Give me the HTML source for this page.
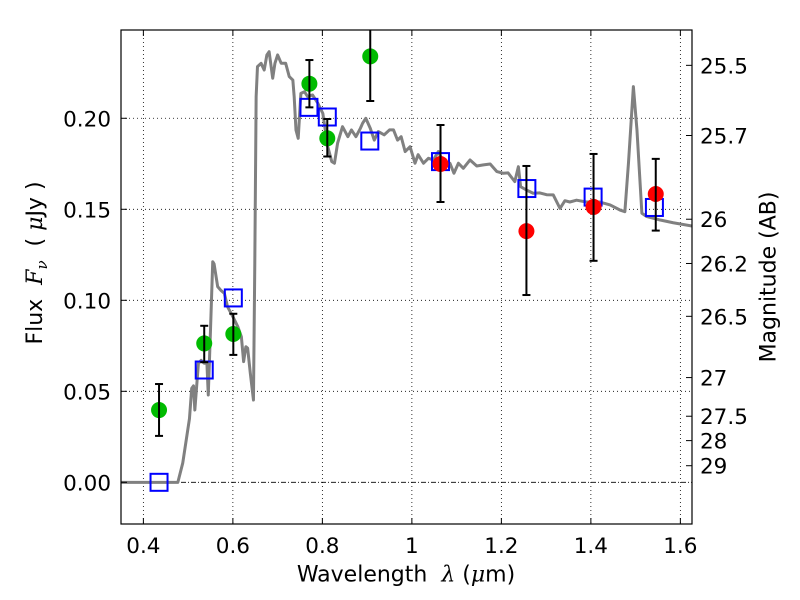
<!DOCTYPE html>
<html><head><meta charset="utf-8"><style>
body{margin:0;background:#fff;}
svg{display:block;font-family:"DejaVu Sans","Liberation Sans",sans-serif;}
</style></head><body>
<svg id="chart" width="800" height="600" viewBox="0 0 800 600"></svg>
<script>
const specX=[0.35,0.477,0.488,0.503,0.508,0.512,0.515,0.523,0.529,0.536,0.542,0.545,0.550,0.555,0.558,0.566,0.573,0.581,0.588,0.600,0.611,0.619,0.624,0.629,0.633,0.639,0.646,0.649,0.652,0.655,0.663,0.670,0.676,0.681,0.689,0.694,0.700,0.708,0.714,0.718,0.726,0.734,0.737,0.741,0.746,0.752,0.760,0.767,0.778,0.790,0.801,0.812,0.821,0.827,0.834,0.845,0.857,0.865,0.875,0.885,0.890,0.897,0.907,0.916,0.925,0.938,0.950,0.959,0.968,0.976,0.985,0.996,1.007,1.014,1.026,1.037,1.048,1.059,1.070,1.085,1.094,1.104,1.115,1.130,1.145,1.160,1.175,1.190,1.204,1.215,1.230,1.238,1.243,1.256,1.271,1.286,1.301,1.316,1.331,1.342,1.353,1.368,1.390,1.420,1.443,1.465,1.476,1.484,1.495,1.503,1.514,1.525,1.555,1.584,1.626];
const specY=[0,0,0.0106,0.035,0.0516,0.053,0.0397,0.0654,0.067,0.0654,0.0654,0.048,0.0837,0.1212,0.120,0.1075,0.1055,0.1038,0.0965,0.091,0.0855,0.080,0.0663,0.0745,0.0737,0.0599,0.0452,0.1205,0.2119,0.2284,0.2302,0.2265,0.2348,0.2366,0.222,0.2302,0.2348,0.2302,0.2302,0.2302,0.2229,0.221,0.2119,0.1936,0.189,0.2137,0.2146,0.2119,0.2128,0.2082,0.2027,0.1844,0.1762,0.1753,0.1863,0.1954,0.1899,0.1936,0.1899,0.1945,0.1973,0.200,0.1945,0.188,0.1927,0.1909,0.1936,0.1936,0.188,0.1899,0.1817,0.1844,0.1753,0.180,0.1753,0.178,0.1771,0.1817,0.1762,0.1753,0.1698,0.1753,0.1725,0.1771,0.1738,0.1744,0.1749,0.1707,0.1698,0.170,0.1652,0.1734,0.1624,0.1606,0.1588,0.159,0.158,0.1579,0.1505,0.1547,0.154,0.155,0.154,0.154,0.1524,0.1496,0.1487,0.1753,0.2174,0.1936,0.1478,0.146,0.1441,0.1426,0.1408];
const greenX=[0.435,0.536,0.601,0.771,0.811,0.907];
const greenY=[0.0397,0.0763,0.0815,0.219,0.189,0.234];
const greenLo=[0.0255,0.066,0.070,0.206,0.179,0.2095];
const greenHi=[0.054,0.086,0.0926,0.232,0.1996,0.258];
const redX=[1.064,1.256,1.406,1.545];
const redY=[0.1749,0.138,0.1513,0.1584];
const redLo=[0.154,0.1029,0.1217,0.1383];
const redHi=[0.1963,0.1738,0.1804,0.1777];
const blueX=[0.435,0.536,0.601,0.770,0.811,0.906,1.064,1.257,1.405,1.542];
const blueY=[0.0,0.0617,0.1013,0.206,0.2007,0.1875,0.1762,0.1614,0.1567,0.151];
const xTicks=[0.4,0.6,0.8,1.0,1.2,1.4,1.6];
const xTickLabels=["0.4","0.6","0.8","1","1.2","1.4","1.6"];
const yTicks=[0,0.05,0.10,0.15,0.20];
const yTickLabels=["0.00","0.05","0.10","0.15","0.20"];
const magTicks=[25.5,25.7,26,26.2,26.5,27,27.5,28,29];
const magLabels=["25.5","25.7","26","26.2","26.5","27","27.5","28","29"];

const L=121,R=692,T=30,B=524;
const X0=0.35,X1=1.626,Y0=-0.0229,Y1=0.2485;
const sx=v=>L+(v-X0)/(X1-X0)*(R-L);
const sy=v=>B-(v-Y0)/(Y1-Y0)*(B-T);
const svg=document.getElementById('chart');
const NS='http://www.w3.org/2000/svg';
function mk(tag,attrs,parent){const e=document.createElementNS(NS,tag);for(const k in attrs)e.setAttribute(k,attrs[k]);(parent||svg).appendChild(e);return e;}

const bg=mk('rect',{x:L,y:T,width:R-L,height:B-T,fill:'#fff'});


const clip=mk('clipPath',{id:'c'});mk('rect',{x:L,y:T,width:R-L,height:B-T},clip);

const grid=mk('g',{stroke:'#000','stroke-width':0.8,'stroke-dasharray':'1,3'});


xTicks.forEach(v=>mk('line',{x1:sx(v),x2:sx(v),y1:T,y2:B},grid));
yTicks.forEach(v=>{if(v!==0)mk('line',{x1:L,x2:R,y1:sy(v),y2:sy(v)},grid);});
const zl=mk('line',{x1:L,x2:R,y1:sy(0),y2:sy(0),stroke:'#000','stroke-width':0.8,'stroke-dasharray':'5,2,1,2'});



const plot=mk('g',{'clip-path':'url(#c)'});
const sp=mk('polyline',{points:specX.map((x,i)=>sx(x)+','+sy(specY[i])).join(' '),fill:'none',stroke:'#808080','stroke-width':3,'stroke-linejoin':'round'},plot);



blueX.forEach((x,i)=>{
  const r=mk('rect',{x:sx(x)-8.5,y:sy(blueY[i])-8.5,width:17,height:17,fill:'none',stroke:'#0000ff','stroke-width':2},plot);
  
  
});
function pts(xs,ys,lo,hi,col,name){
  xs.forEach((x,i)=>{
    const g=mk('g',{},plot);
    
    
    mk('circle',{cx:sx(x),cy:sy(ys[i]),r:8,fill:col},g);
    const X=sx(x);
    mk('line',{x1:X,x2:X,y1:sy(lo[i]),y2:sy(hi[i]),stroke:'#000','stroke-width':2},g);
    mk('line',{x1:X-4,x2:X+4,y1:sy(lo[i]),y2:sy(lo[i]),stroke:'#000','stroke-width':2},g);
    mk('line',{x1:X-4,x2:X+4,y1:sy(hi[i]),y2:sy(hi[i]),stroke:'#000','stroke-width':2},g);
  });
}
pts(greenX,greenY,greenLo,greenHi,'#00bb00','green-data-point');
pts(redX,redY,redLo,redHi,'#ff0000','red-data-point');

const fr=mk('rect',{x:L,y:T,width:R-L,height:B-T,fill:'none',stroke:'#000','stroke-width':1.2});



const tx=mk('g',{'font-size':21.5,fill:'#000'});
xTicks.forEach((v,i)=>{
  mk('line',{x1:sx(v),x2:sx(v),y1:B,y2:B-6,stroke:'#000'},tx);
  mk('line',{x1:sx(v),x2:sx(v),y1:T,y2:T+6,stroke:'#000'},tx);
  const t=mk('text',{x:sx(v),y:B+29,'text-anchor':'middle'},tx);t.textContent=xTickLabels[i];
  
  
});
yTicks.forEach((v,i)=>{
  mk('line',{x1:L,x2:L+6,y1:sy(v),y2:sy(v),stroke:'#000'},tx);
  const t=mk('text',{x:L-10,y:sy(v)+8,'text-anchor':'end'},tx);t.textContent=yTickLabels[i];
  
  
});
magTicks.forEach((m,i)=>{
  const f=Math.pow(10,(23.9-m)/2.5);
  mk('line',{x1:R,x2:R-6,y1:sy(f),y2:sy(f),stroke:'#000'},tx);
  const t=mk('text',{x:R+8,y:sy(f)+8,'text-anchor':'start'},tx);t.textContent=magLabels[i];
  
  
});
</script>
<div style="position:absolute;left:0;top:0;width:800px;height:600px;pointer-events:none;font-family:'DejaVu Sans','Liberation Sans',sans-serif;font-size:22px;color:#000;">
  <div style="position:absolute;left:406px;top:575px;transform:translate(-50%,-50%);white-space:nowrap;">Wavelength&nbsp; <i style="font-family:'DejaVu Serif',serif;">λ</i> (<i style="font-family:'DejaVu Serif',serif;">μ</i>m)</div>
  <div style="position:absolute;left:37px;top:263px;transform:translate(-50%,-50%) rotate(-90deg);white-space:nowrap;">Flux&nbsp; <i style="font-family:'DejaVu Serif',serif;">F<sub style="font-size:15px;">ν</sub></i>&nbsp; ( <i style="font-family:'DejaVu Serif',serif;">μ</i>Jy )</div>
  <div style="position:absolute;left:769px;top:277px;transform:translate(-50%,-50%) rotate(-90deg);white-space:nowrap;">Magnitude (AB)</div>
</div>
</body></html>
